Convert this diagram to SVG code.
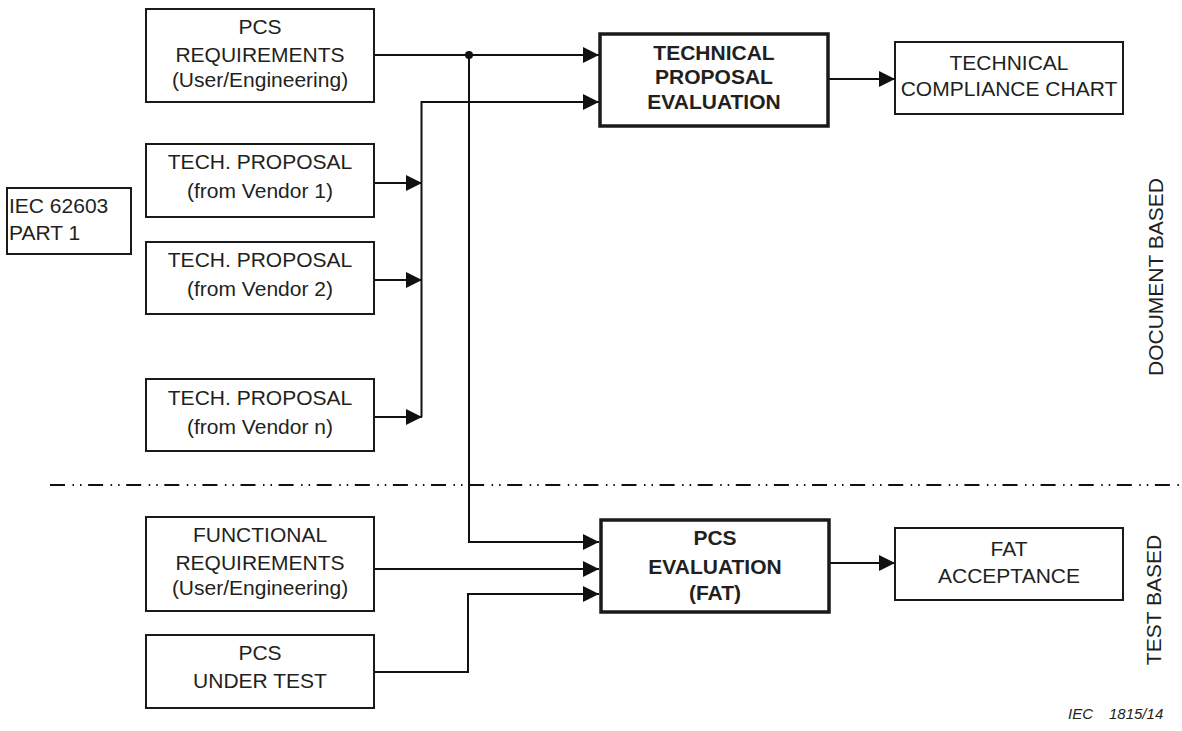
<svg xmlns="http://www.w3.org/2000/svg" width="1182" height="731" viewBox="0 0 1182 731">
<defs>
<style>
.box{fill:#fff;stroke:#1a1a1a;stroke-width:2}
.tbox{fill:#fff;stroke:#1a1a1a;stroke-width:3.5}
.t{font-family:"Liberation Sans",Arial,sans-serif;font-size:21px;fill:#231f20;text-anchor:middle}
.b{font-weight:bold}
.l{text-anchor:start}
.c{fill:none;stroke:#111;stroke-width:2}
.arr{marker-end:url(#ah)}
.dd{fill:none;stroke:#111;stroke-width:2;stroke-dasharray:15 7.5 1.5 6 1.5 6.6}
.note{font-family:"Liberation Sans",Arial,sans-serif;font-size:15px;font-style:italic;fill:#231f20}
</style>
<marker id="ah" markerWidth="16" markerHeight="16" viewBox="0 0 16 16" refX="16" refY="8" orient="auto" markerUnits="userSpaceOnUse">
<path d="M0,0 L16,8 L0,16 Z" fill="#111"/>
</marker>
</defs>
<rect width="1182" height="731" fill="#fff"/>

<g id="connectors">
<path class="c arr" d="M374,55 H599"/>
<path class="c arr" d="M469,55 V542 H599"/>
<path class="c arr" d="M421.5,417 V102 H599"/>
<path class="c arr" d="M374,183 H422"/>
<path class="c arr" d="M374,280 H422"/>
<path class="c arr" d="M374,417 H422"/>
<path class="c arr" d="M374,569 H599"/>
<path class="c arr" d="M374,672 H468 V594 H599"/>
<path class="c arr" d="M828,79 H895"/>
<path class="c arr" d="M829,563 H895"/>
<circle cx="469" cy="55" r="4" fill="#111"/>
</g>

<g id="separator">
<path class="dd" d="M50,485 H1182"/>
</g>

<g id="pcs-requirements">
<rect class="box" x="146" y="9" width="228" height="93"/>
<text class="t" x="260" y="33.5">PCS</text>
<text class="t" x="260" y="61.5">REQUIREMENTS</text>
<text class="t" x="260" y="87">(User/Engineering)</text>
</g>

<g id="tech-proposal-evaluation">
<rect class="tbox" x="600" y="34" width="228" height="92"/>
<text class="t b" x="714" y="60">TECHNICAL</text>
<text class="t b" x="714" y="84">PROPOSAL</text>
<text class="t b" x="714" y="109">EVALUATION</text>
</g>

<g id="tech-compliance-chart">
<rect class="box" x="895" y="42" width="228" height="72"/>
<text class="t" x="1009" y="70">TECHNICAL</text>
<text class="t" x="1009" y="96">COMPLIANCE CHART</text>
</g>

<g id="iec-62603">
<rect class="box" x="7" y="188" width="124" height="66"/>
<text class="t l" x="9" y="213">IEC 62603</text>
<text class="t l" x="9" y="240">PART 1</text>
</g>

<g id="vendor-1">
<rect class="box" x="146" y="144" width="228" height="73"/>
<text class="t" x="260" y="169">TECH. PROPOSAL</text>
<text class="t" x="260" y="198">(from Vendor 1)</text>
</g>

<g id="vendor-2">
<rect class="box" x="146" y="242" width="228" height="72"/>
<text class="t" x="260" y="267">TECH. PROPOSAL</text>
<text class="t" x="260" y="296">(from Vendor 2)</text>
</g>

<g id="vendor-n">
<rect class="box" x="146" y="379" width="228" height="72"/>
<text class="t" x="260" y="405">TECH. PROPOSAL</text>
<text class="t" x="260" y="434">(from Vendor n)</text>
</g>

<g id="document-based">
<text class="t" transform="translate(1163,277) rotate(-90)">DOCUMENT BASED</text>
</g>

<g id="functional-requirements">
<rect class="box" x="146" y="517" width="228" height="94"/>
<text class="t" x="260" y="542">FUNCTIONAL</text>
<text class="t" x="260" y="570">REQUIREMENTS</text>
<text class="t" x="260" y="595">(User/Engineering)</text>
</g>

<g id="pcs-under-test">
<rect class="box" x="146" y="635" width="228" height="73"/>
<text class="t" x="260" y="660">PCS</text>
<text class="t" x="260" y="688">UNDER TEST</text>
</g>

<g id="pcs-evaluation">
<rect class="tbox" x="601" y="520" width="228" height="92"/>
<text class="t b" x="715" y="545">PCS</text>
<text class="t b" x="715" y="574">EVALUATION</text>
<text class="t b" x="715" y="600">(FAT)</text>
</g>

<g id="fat-acceptance">
<rect class="box" x="895" y="528" width="228" height="72"/>
<text class="t" x="1009" y="556">FAT</text>
<text class="t" x="1009" y="583">ACCEPTANCE</text>
</g>

<g id="test-based">
<text class="t" transform="translate(1161,600) rotate(-90)">TEST BASED</text>
</g>

<g id="figure-number">
<text class="note" y="719"><tspan x="1068">IEC</tspan><tspan x="1109">1815/14</tspan></text>
</g>
</svg>
